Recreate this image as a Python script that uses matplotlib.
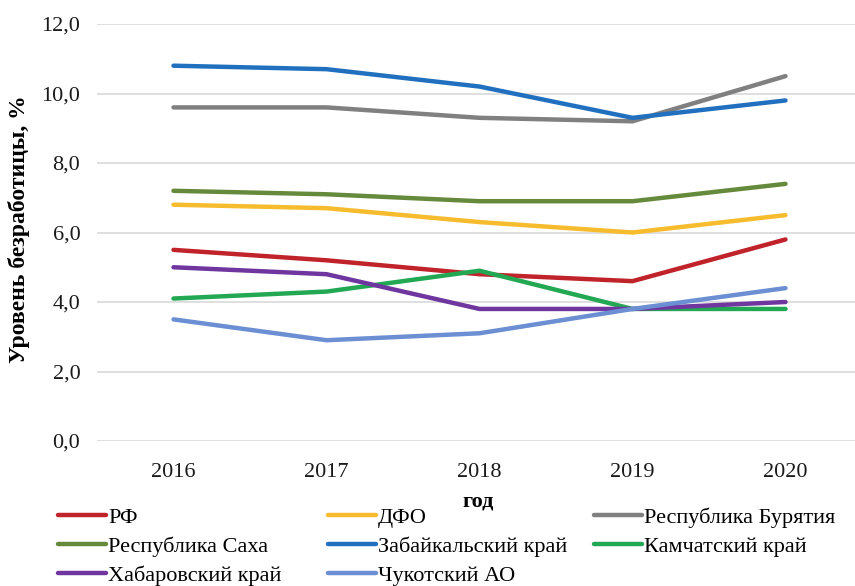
import matplotlib
matplotlib.use("Agg")
import matplotlib.pyplot as plt
from matplotlib.lines import Line2D

years = ["2016", "2017", "2018", "2019", "2020"]
series_names = ["РФ", "ДФО", "Республика Бурятия", "Республика Саха",
                "Забайкальский край", "Камчатский край", "Хабаровский край", "Чукотский АО"]
rf = [5.5, 5.2, 4.8, 4.6, 5.8]
dfo = [6.8, 6.7, 6.3, 6.0, 6.5]
buryatia = [9.6, 9.6, 9.3, 9.2, 10.5]
sakha = [7.2, 7.1, 6.9, 6.9, 7.4]
zabaikal = [10.8, 10.7, 10.2, 9.3, 9.8]
kamchatka = [4.1, 4.3, 4.9, 3.8, 3.8]
khabarovsk = [5.0, 4.8, 3.8, 3.8, 4.0]
chukotka = [3.5, 2.9, 3.1, 3.8, 4.4]
yticks = [0, 2, 4, 6, 8, 10, 12]
ytick_labels = ["0,0", "2,0", "4,0", "6,0", "8,0", "10,0", "12,0"]

colors = ["#c0232a", "#f7bc2d", "#808080", "#668a3c", "#2170bf", "#22a852", "#7036a0", "#6b8fd2"]
data = [rf, dfo, buryatia, sakha, zabaikal, kamchatka, khabarovsk, chukotka]

plt.rcParams['font.family'] = ['Liberation Serif', 'DejaVu Serif']

fig = plt.figure(figsize=(8.55, 5.86), dpi=100)
W, H = 855, 586
ax = fig.add_axes([97 / W, 1 - 441 / H, (862 - 97) / W, (441 - 24) / H])

x = list(range(len(years)))
for vals, c in zip(data, colors):
    ax.plot(x, vals, color=c, lw=3.2, solid_capstyle='round', solid_joinstyle='round', zorder=3)

ax.set_xlim(-0.5, 4.5)
ax.set_ylim(0, 12)
ax.set_yticks(yticks)
ax.set_yticklabels(ytick_labels)
ax.set_xticks(x)
ax.set_xticklabels(years)
ax.tick_params(length=0, labelsize=16, colors="#1a1a1a")
ax.tick_params(axis='x', pad=16)
ax.tick_params(axis='y', pad=12)
for s in ax.spines.values():
    s.set_visible(False)
ax.grid(axis='y', color="#d9d9d9", lw=1.2, zorder=0)
ax.set_axisbelow(True)

fig.text(19 / W, 1 - 229 / H, "Уровень безработицы, %", rotation=90, ha='center', va='center',
         fontsize=17, fontweight='bold')
fig.text(478 / W, 1 - 502 / H, "год", ha='center', va='center', fontsize=16, fontweight='bold')

cols = [[0, 3, 6], [1, 4, 7], [2, 5]]
xstarts = [58, 328, 594]
for col, xs in zip(cols, xstarts):
    handles = [Line2D([], [], color=colors[i], lw=3.2, solid_capstyle='round') for i in col]
    labels = [series_names[i] for i in col]
    leg = fig.legend(handles, labels, loc='upper left', bbox_to_anchor=(xs / W, 1 - 507 / H),
                     frameon=False, fontsize=16, handlelength=2.15, handletextpad=0.1,
                     labelspacing=0.38, borderpad=0, borderaxespad=0)

fig.savefig("out.png", dpi=100)
